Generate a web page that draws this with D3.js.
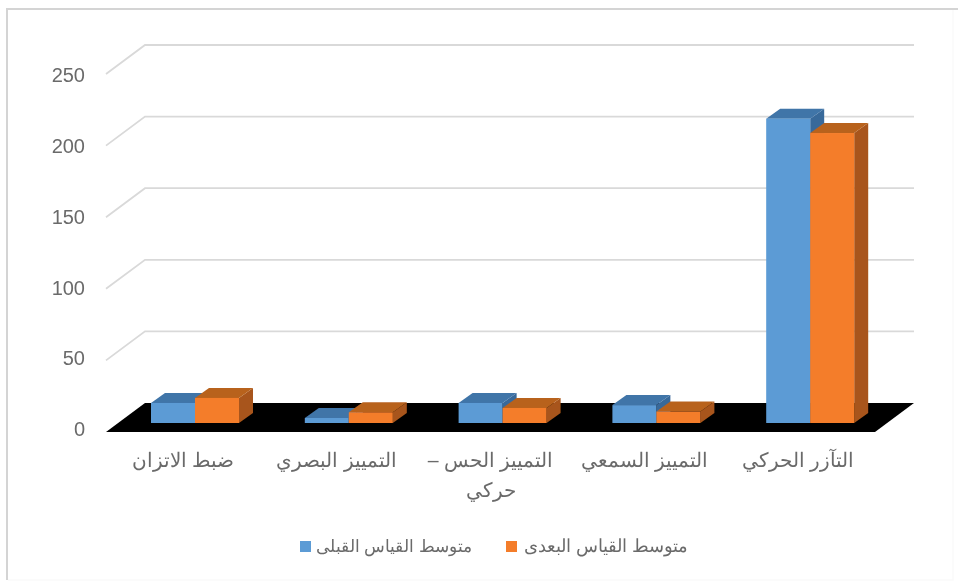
<!DOCTYPE html>
<html><head><meta charset="utf-8">
<script src="https://cdn.jsdelivr.net/npm/d3@7"></script>
<style>html,body{margin:0;padding:0;background:#fff}svg{display:block}text{font-family:"Liberation Sans","Noto Sans",sans-serif}</style>
</head><body><svg id="c" width="958" height="583"></svg>
<script>
const categories=["ضبط الاتزان","التمييز البصري","التمييز الحس – حركي","التمييز السمعي","التآزر الحركي"];
const categoryLines=[["ضبط الاتزان"],["التمييز البصري"],["التمييز الحس –","حركي"],["التمييز السمعي"],["التآزر الحركي"]];
const seriesNames=["متوسط القياس القبلى","متوسط القياس البعدى"];
const before=[14,3.5,14,12.5,212.5];
const after=[17.5,7.5,10.5,8,202.5];
const yTicks=[0,50,100,150,200,250];
const blue={front:"#5b9bd5",top:"#3f74a8",side:"#39699a"};
const orange={front:"#f47d2b",top:"#b8621f",side:"#a8551a"};
const svg=d3.select("#c");
const defs=svg.append("defs");
defs.append("filter").attr("id","soft").attr("filterUnits","userSpaceOnUse").attr("x",0).attr("y",0).attr("width",958).attr("height",583)
 .append("feGaussianBlur").attr("stdDeviation",0.7);
const root=svg.append("g").attr("filter","url(#soft)");
root.append("path").attr("d","M7,580V9H958").attr("fill","none").attr("stroke","#d4d4d4").attr("stroke-width",2);
root.append("path").attr("d","M8,580H953V10").attr("fill","none").attr("stroke","#fafafa").attr("stroke-width",1.5);
const x=d3.scaleBand().domain(categories).range([106,875]);
const y=d3.scaleLinear().domain([0,250]).range([432,74]);
const yLabel=d3.scaleLinear().domain([0,250]).range([429,75]);
const DX=39,DY=29;
const bx=14,by=10;
const line=d3.line();
const grid=root.append("g");
yTicks.filter(v=>v>0).forEach(v=>{
 grid.append("path").attr("d",line([[x.range()[0],y(v)],[x.range()[0]+DX,y(v)-DY],[x.range()[1]+DX,y(v)-DY]]))
  .attr("fill","none").attr("stroke","#d9d9d9").attr("stroke-width",1.8);
});
root.append("path").attr("d",line([[x.range()[0],y(0)],[x.range()[0]+DX,y(0)-DY],[x.range()[1]+DX,y(0)-DY],[x.range()[1],y(0)]])+"Z").attr("fill","#000");
root.append("g").selectAll("text").data(yTicks).join("text")
 .attr("x",85).attr("y",d=>yLabel(d)).attr("dy","0.36em").attr("text-anchor","end").attr("fill","#6a6a6a").attr("font-size",20).text(d=>d);
const inner=d3.scaleBand().domain(seriesNames).range([45,133]);
const base=y(0)-9;
const yb=v=>y(v)-9;
const barsG=root.append("g");
categories.forEach((c,i)=>{
 [[before[i],blue,seriesNames[0]],[after[i],orange,seriesNames[1]]].forEach(([v,col,s])=>{
  const l=x(c)+inner(s),r=l+inner.bandwidth(),t=yb(v);
  barsG.append("path").attr("d",line([[r,t],[r+bx,t-by],[r+bx,base-by],[r,base]])+"Z").attr("fill",col.side);
  barsG.append("path").attr("d",line([[l,t],[l+bx,t-by],[r+bx,t-by],[r,t]])+"Z").attr("fill",col.top);
  barsG.append("rect").attr("x",l).attr("y",t).attr("width",r-l).attr("height",base-t).attr("fill",col.front);
 });
});
const lab=root.append("g");
categories.forEach((c,i)=>{
 categoryLines[i].forEach((t,j)=>{
  lab.append("text").attr("x",x(c)+x.bandwidth()/2).attr("y",467+j*30).attr("text-anchor","middle").attr("direction","rtl")
   .attr("fill","#6a6a6a").attr("font-size",19.5).text(t);
 });
});
const legendX=d3.scaleOrdinal().domain(seriesNames).range([300,506]);
seriesNames.forEach((s,i)=>{
 const lx=legendX(s);
 root.append("rect").attr("x",lx).attr("y",541).attr("width",11).attr("height",11).attr("fill",i?orange.front:blue.front);
 root.append("text").attr("x",lx+(i?182:172)).attr("y",552).attr("text-anchor","start").attr("direction","rtl")
   .attr("fill","#6a6a6a").attr("font-size",i?17.8:16.8).text(s);
});
</script></body></html>
